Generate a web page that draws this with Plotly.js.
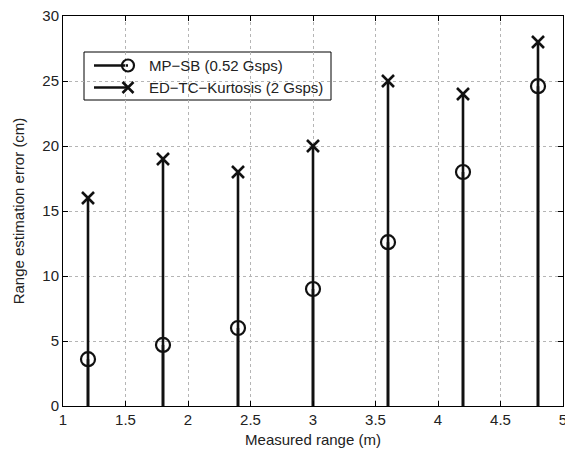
<!DOCTYPE html>
<html><head><meta charset="utf-8">
<script src="https://cdn.plot.ly/plotly-3.0.1.min.js"></script>
<style>body{margin:0;background:#fff}#plot{width:565px;height:452px}</style>
</head><body><div id="plot"></div>
<script>
const ranges = [1.2, 1.8, 2.4, 3.0, 3.6, 4.2, 4.8];
const mpsb = [3.6, 4.7, 6.0, 9.0, 12.6, 18.0, 24.6];
const edtc = [16, 19, 18, 20, 25, 24, 28];
const seriesNames = ['MP\u2212SB (0.52 Gsps)', 'ED\u2212TC\u2212Kurtosis (2 Gsps)'];

const W = 565, H = 452, M = {l: 63, r: 2, t: 16, b: 46};
const pw = W - M.l - M.r, ph = H - M.t - M.b;
const px = v => (v - M.l) / pw;          // pixel x -> paper
const py = v => (H - M.b - v) / ph;      // pixel y -> paper

function stemLines(xs, ys) {
  const sx = [], sy = [];
  xs.forEach((x, i) => { sx.push(x, x, null); sy.push(0, ys[i], null); });
  return {sx, sy};
}
const s1 = stemLines(ranges, mpsb), s2 = stemLines(ranges, edtc);
const lw = 2.6, ink = '#111';
const circ = {symbol: 'circle-open', size: 14, color: ink, line: {width: 2.2, color: ink}};
const cross = {symbol: 'x-thin-open', size: 12, color: ink, line: {width: 2.6, color: ink}};

// legend geometry (decoration)
const legRows = [65.5, 87.5], legLineX = [94, 128], legTextX = 147;
const legBox = {x0: 84, x1: 331, y0: 52, y1: 100};

const traces = [
  {x: s2.sx, y: s2.sy, mode: 'lines', line: {color: ink, width: lw}, hoverinfo: 'skip'},
  {x: s1.sx, y: s1.sy, mode: 'lines', line: {color: ink, width: lw}, hoverinfo: 'skip'},
  {x: ranges, y: mpsb, mode: 'markers', name: seriesNames[0], marker: circ},
  {x: ranges, y: edtc, mode: 'markers', name: seriesNames[1], marker: cross},
  {x: [px(legLineX[1])], y: [py(legRows[0])], xaxis: 'x2', yaxis: 'y2', mode: 'markers',
   marker: Object.assign({}, circ, {size: 12})},
  {x: [px(legLineX[1])], y: [py(legRows[1])], xaxis: 'x2', yaxis: 'y2', mode: 'markers',
   marker: Object.assign({}, cross, {size: 11})}
];
const tf = {size: 15, color: '#222'};
const axisCommon = {
  showline: true, linecolor: '#000', linewidth: 1, mirror: 'allticks',
  ticks: 'inside', ticklen: 5, tickcolor: '#000', tickwidth: 1,
  showgrid: true, gridcolor: '#b5b5b5', griddash: 'dot', gridwidth: 1,
  zeroline: false, tickfont: tf, ticklabeloverflow: 'allow'
};
const shapes = [
  {type: 'rect', xref: 'paper', yref: 'paper', x0: px(legBox.x0), x1: px(legBox.x1),
   y0: py(legBox.y1), y1: py(legBox.y0), line: {color: '#000', width: 1}, fillcolor: '#fff', layer: 'between'}
];
legRows.forEach(r => shapes.push({type: 'line', xref: 'paper', yref: 'paper',
  x0: px(legLineX[0]), x1: px(legLineX[1]), y0: py(r), y1: py(r), line: {color: ink, width: lw}, layer: 'between'}));
const annotations = seriesNames.map((n, i) => ({xref: 'paper', yref: 'paper', x: px(legTextX), y: py(legRows[i]),
  xanchor: 'left', yanchor: 'middle', text: n, showarrow: false, font: tf}));

const layout = {
  width: W, height: H, margin: M,
  paper_bgcolor: '#fff', plot_bgcolor: '#fff', showlegend: false,
  font: {family: 'Liberation Sans, Arial, sans-serif', color: '#222'},
  xaxis: Object.assign({}, axisCommon, {range: [1, 5], dtick: 0.5, tick0: 1,
    title: {text: 'Measured range (m)', font: tf, standoff: 7}}),
  yaxis: Object.assign({}, axisCommon, {range: [0, 30], dtick: 5, tick0: 0,
    title: {text: 'Range estimation error (cm)', font: tf, standoff: 14}}),
  xaxis2: {overlaying: 'x', range: [0, 1], visible: false, fixedrange: true},
  yaxis2: {overlaying: 'y', range: [0, 1], visible: false, fixedrange: true},
  shapes, annotations
};
Plotly.newPlot('plot', traces, layout, {displayModeBar: false, staticPlot: true});
</script></body></html>
